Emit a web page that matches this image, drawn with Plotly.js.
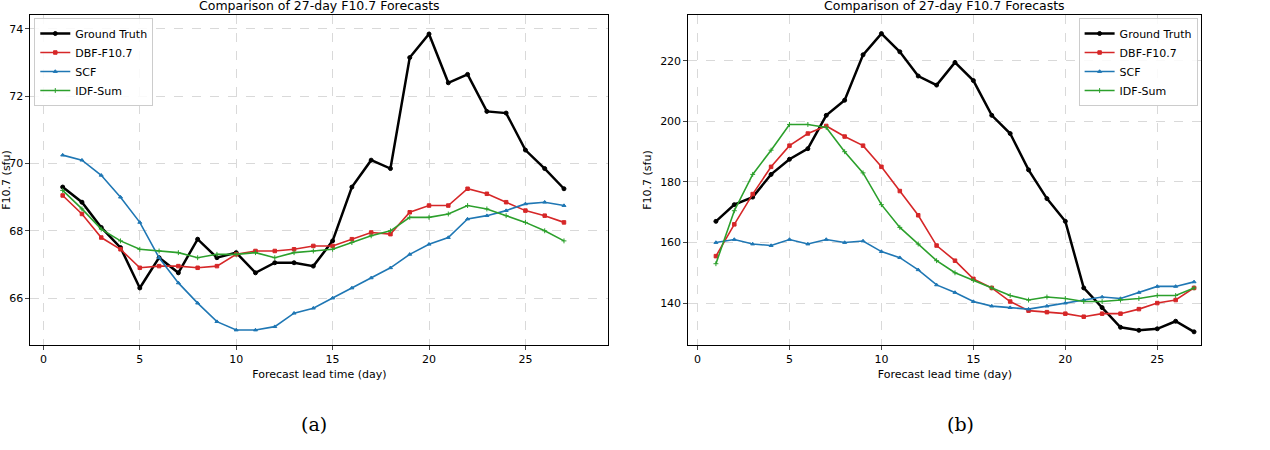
<!DOCTYPE html>
<html><head><meta charset="utf-8">
<script src="https://cdn.plot.ly/plotly-3.0.1.min.js"></script>
<style>body{margin:0}#c{width:1270px;height:450px}</style>
</head><body><div id="c"></div>
<script>
var days = [];
for (var i = 1; i <= 27; i++) days.push(i);

var gtA  = [69.3,68.85,68.1,67.5,66.3,67.2,66.75,67.75,67.2,67.35,66.75,67.05,67.05,66.95,67.7,69.3,70.1,69.85,73.15,73.85,72.4,72.65,71.55,71.5,70.4,69.85,69.25];
var dbfA = [69.05,68.5,67.8,67.45,66.9,66.95,66.95,66.9,66.95,67.3,67.4,67.4,67.45,67.55,67.55,67.75,67.95,67.9,68.55,68.75,68.75,69.25,69.1,68.85,68.6,68.45,68.25];
var scfA = [70.25,70.1,69.65,69.0,68.25,67.2,66.45,65.85,65.3,65.05,65.05,65.15,65.55,65.7,66.0,66.3,66.6,66.9,67.3,67.6,67.8,68.35,68.45,68.6,68.8,68.85,68.75];
var idfA = [69.2,68.65,68.05,67.7,67.45,67.4,67.35,67.2,67.3,67.3,67.35,67.2,67.35,67.4,67.45,67.65,67.85,68.0,68.4,68.4,68.5,68.75,68.65,68.45,68.25,68.0,67.7];

var gtB  = [167,172.5,175,182.5,187.5,191,202,207,222,229,223,215,212,219.5,213.5,202,196,184,174.5,167,145,138.5,132,131,131.5,134,130.5];
var dbfB = [155.5,166,176,185,192,196,198.5,195,192,185,177,169,159,154,148,145,140.5,137.5,137,136.5,135.5,136.5,136.5,138,140,141,145];
var scfB = [160,161,159.5,159,161,159.5,161,160,160.5,157,155,151,146,143.5,140.5,139,138.5,138,139,140,141,142,141.5,143.5,145.5,145.5,147];
var idfB = [153,170.5,182.5,190.5,199,199,198,190,183,172.5,165,159.5,154,150,147.5,145,142.5,141,142,141.5,140.5,140.5,141,141.5,142.5,142.5,145];

var names = ['Ground Truth','DBF-F10.7','SCF','IDF-Sum'];
var colors = ['#000000','#d62728','#1f77b4','#2ca02c'];
var symbols = ['circle','square','triangle-up','cross-thin'];

var data = [];
function addSet(vals, xa, ya, leg) {
  vals.forEach(function (v, k) {
    data.push({
      x: days, y: v, xaxis: xa, yaxis: ya, type: 'scatter', mode: 'lines+markers',
      name: names[k], legend: leg,
      line: {color: colors[k], width: k == 0 ? 2.5 : 1.6},
      marker: {color: colors[k], size: k == 0 ? 4 : 3.5, symbol: symbols[k],
               line: {color: colors[k], width: 1}}
    });
  });
}
addSet([gtA, dbfA, scfA, idfA], 'x', 'y', 'legend');
addSet([gtB, dbfB, scfB, idfB], 'x2', 'y2', 'legend2');

var ax = {showline: true, mirror: true, linecolor: '#000', linewidth: 1, ticks: 'outside',
  ticklen: 4, gridcolor: '#d9d9d9', griddash: 'dash', zeroline: false,
  tickfont: {family: 'DejaVu Sans', size: 11, color: '#000'}};
function mk(extra) { return Object.assign({}, ax, extra); }

var legendStyle = {bgcolor: 'rgba(255,255,255,0.85)', bordercolor: '#ccc', borderwidth: 1,
  font: {size: 11}, yanchor: 'top', y: 0.96};

var layout = {
  width: 1270, height: 450, margin: {l: 0, r: 0, t: 0, b: 0},
  paper_bgcolor: '#fff', plot_bgcolor: '#fff', showlegend: true,
  font: {family: 'DejaVu Sans', color: '#000'},
  xaxis: mk({domain: [0.024, 0.479], range: [-0.67, 29.3], tickvals: [0,5,10,15,20,25],
    title: {text: 'Forecast lead time (day)', font: {size: 11}, standoff: 4}, anchor: 'y'}),
  yaxis: mk({domain: [0.233, 0.967], range: [64.6, 74.42], tickvals: [66,68,70,72,74],
    title: {text: 'F10.7 (sfu)', font: {size: 11}, standoff: 6}, anchor: 'x'}),
  xaxis2: mk({domain: [0.542, 0.946], range: [-0.5, 27.4], tickvals: [0,5,10,15,20,25],
    title: {text: 'Forecast lead time (day)', font: {size: 11}, standoff: 4}, anchor: 'y2'}),
  yaxis2: mk({domain: [0.233, 0.967], range: [126.1, 235.2], tickvals: [140,160,180,200,220],
    title: {text: 'F10.7 (sfu)', font: {size: 11}, standoff: 6}, anchor: 'x2'}),
  legend: Object.assign({x: 0.027, xanchor: 'left'}, legendStyle),
  legend2: Object.assign({x: 0.943, xanchor: 'right'}, legendStyle),
  annotations: [
    {text: 'Comparison of 27-day F10.7 Forecasts', x: 0.2515, y: 0.967, xref: 'paper', yref: 'paper',
     xanchor: 'center', yanchor: 'bottom', showarrow: false, font: {size: 12.5}},
    {text: 'Comparison of 27-day F10.7 Forecasts', x: 0.744, y: 0.967, xref: 'paper', yref: 'paper',
     xanchor: 'center', yanchor: 'bottom', showarrow: false, font: {size: 12.5}},
    {text: '(a)', x: 0.247, y: 0.03, xref: 'paper', yref: 'paper', xanchor: 'center', showarrow: false,
     font: {family: 'DejaVu Serif', size: 19}},
    {text: '(b)', x: 0.756, y: 0.03, xref: 'paper', yref: 'paper', xanchor: 'center', showarrow: false,
     font: {family: 'DejaVu Serif', size: 19}}
  ]
};

Plotly.newPlot('c', data, layout, {displayModeBar: false});
</script></body></html>
